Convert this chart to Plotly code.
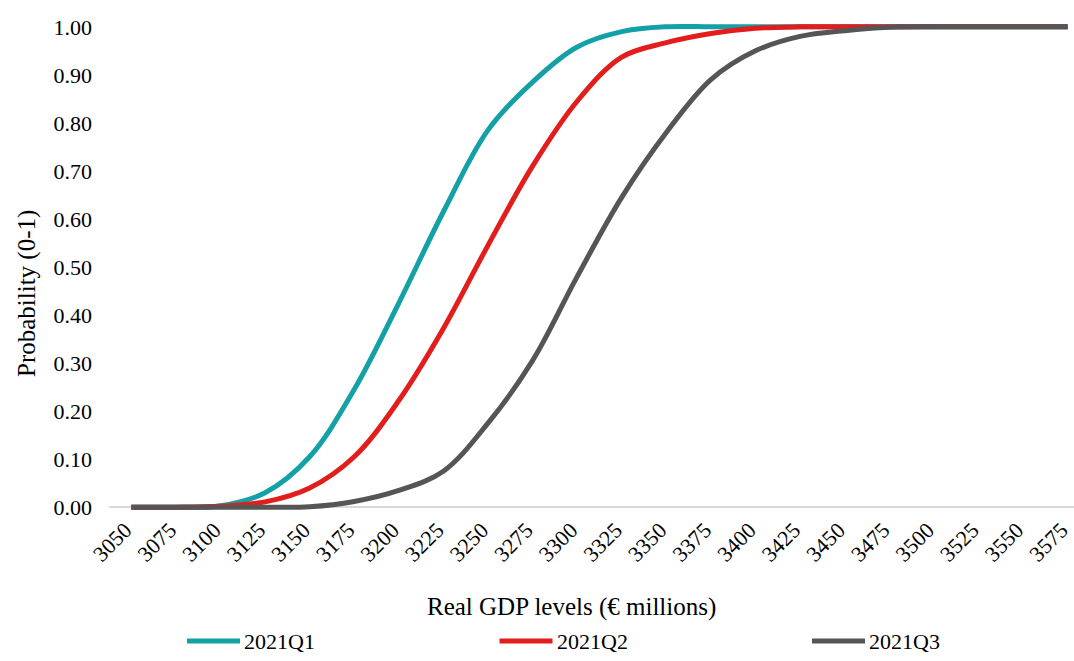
import plotly.graph_objects as go

# Real GDP levels (categories on the x axis)
gdp_levels = [3050, 3075, 3100, 3125, 3150, 3175, 3200, 3225, 3250, 3275, 3300,
              3325, 3350, 3375, 3400, 3425, 3450, 3475, 3500, 3525, 3550, 3575]

# cumulative probabilities
q1_prob = [0.000, 0.000, 0.003, 0.030, 0.105, 0.245, 0.425, 0.615, 0.785, 0.885, 0.958,
           0.990, 1.000, 1.000, 1.000, 1.000, 1.000, 1.000, 1.000, 1.000, 1.000, 1.000]
q2_prob = [0.000, 0.000, 0.002, 0.011, 0.040, 0.105, 0.222, 0.372, 0.545, 0.710, 0.845,
           0.937, 0.967, 0.986, 0.997, 1.000, 1.000, 1.000, 1.000, 1.000, 1.000, 1.000]
q3_prob = [0.000, 0.000, 0.000, 0.000, 0.001, 0.012, 0.035, 0.075, 0.175, 0.305, 0.480,
           0.645, 0.780, 0.890, 0.950, 0.980, 0.992, 0.999, 1.000, 1.000, 1.000, 1.000]

series_names = ['2021Q1', '2021Q2', '2021Q3']
colors = ['#13A0A6', '#E31C1C', '#555555']

y_ticks = [0.0, 0.1, 0.2, 0.3, 0.4, 0.5, 0.6, 0.7, 0.8, 0.9, 1.0]

font_family = 'Liberation Serif, Times New Roman, serif'

# plot area in pixels
W, H = 1074, 661
L, R, T, B = 109, 0, 22, 149
pw, ph = W - L - R, H - T - B


def px_x(p):
    return (p - L) / pw


def px_y(p):
    return (H - B - p) / ph


fig = go.Figure()
for name, vals, col in zip(series_names, [q1_prob, q2_prob, q3_prob], colors):
    fig.add_trace(go.Scatter(x=gdp_levels, y=vals, mode='lines', name=name, showlegend=False,
                             line=dict(color=col, width=5, shape='spline', smoothing=1.0)))

fig.update_layout(
    width=W, height=H,
    margin=dict(l=L, r=R, t=T, b=B, autoexpand=False),
    paper_bgcolor='white', plot_bgcolor='white',
    font=dict(family=font_family, size=22, color='black'),
    showlegend=False,
)

fig.update_xaxes(range=[3037.5, 3578.6], tickvals=gdp_levels, ticktext=[str(v) for v in gdp_levels],
                 tickangle=-45, showgrid=False, zeroline=False, showline=False, automargin=False,
                 ticklabeloverflow='allow', ticklabelshift=-6, tickfont=dict(size=22), ticks='')
fig.update_yaxes(range=[-0.01, 1.01], tickvals=y_ticks, tickformat='.2f', automargin=False,
                 showgrid=False, zeroline=True, zerolinecolor='#D9D9D9', zerolinewidth=1.5,
                 showline=False, ticks='', ticklabelstandoff=16, tickfont=dict(size=22))

fig.add_annotation(text='Real GDP levels (€ millions)', x=px_x(571), y=px_y(607), xref='paper', yref='paper',
                   showarrow=False, xanchor='center', yanchor='middle', font=dict(size=25))
fig.add_annotation(text='Probability (0-1)', x=px_x(27), y=px_y(294), xref='paper', yref='paper',
                   showarrow=False, textangle=-90, xanchor='center', yanchor='middle', font=dict(size=25))

# legend drawn below the axis title
leg_start, leg_step, leg_len, leg_y = 187, 312.5, 53, 641
for i, (name, col) in enumerate(zip(series_names, colors)):
    x0 = leg_start + i * leg_step
    fig.add_shape(type='line', xref='paper', yref='paper', x0=px_x(x0), x1=px_x(x0 + leg_len),
                  y0=px_y(leg_y), y1=px_y(leg_y), line=dict(color=col, width=5))
    fig.add_annotation(text=name, x=px_x(x0 + leg_len + 2), y=px_y(leg_y), xref='paper', yref='paper',
                       showarrow=False, xanchor='left', yanchor='middle', font=dict(size=22))

# page body has a default margin; drop it so the figure sits at the top-left corner
fig.write_html('out.html', config={'displayModeBar': False},
               post_script="document.body.style.margin='0';")
